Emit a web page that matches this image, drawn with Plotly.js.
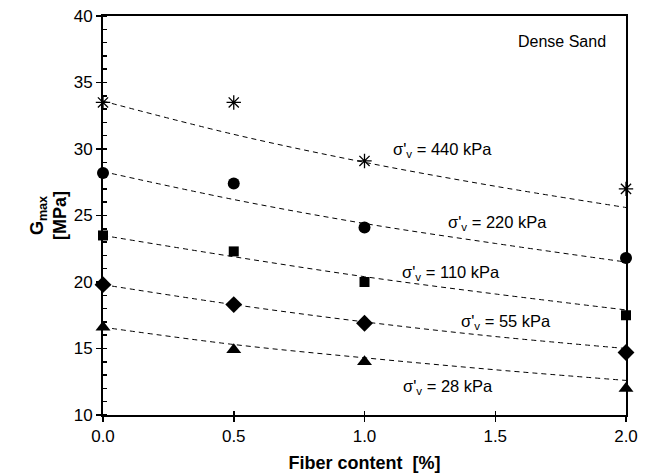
<!DOCTYPE html>
<html>
<head>
<meta charset="utf-8">
<script src="https://cdn.plot.ly/plotly-3.0.1.min.js"></script>
<style>html,body{margin:0;padding:0;background:#fff;}#chart{width:646px;height:473px;}</style>
</head>
<body>
<div id="chart"></div>
<script>
// Measured data
const fiber = [0.0, 0.5, 1.0, 2.0];
const g440 = [33.5, 33.5, 29.1, 27.0];
const g220 = [28.2, 27.4, 24.1, 21.8];
const g110 = [23.5, 22.3, 20.0, 17.5];
const g55  = [19.8, 18.3, 16.9, 14.7];
const g28  = [16.6, 14.9, 14.0, 12.0];

// Trend (fit) lines
const trendX = [0.0, 0.5, 1.0, 1.5, 2.0];
const t440 = [33.6, 31.1, 29.0, 27.2, 25.6];
const t220 = [28.3, 26.2, 24.4, 22.9, 21.5];
const t110 = [23.5, 21.9, 20.4, 19.1, 17.9];
const t55  = [19.8, 18.3, 17.0, 15.9, 15.0];
const t28  = [16.6, 15.3, 14.3, 13.4, 12.6];

const labels = ["σ'<sub>v</sub> = 440 kPa", "σ'<sub>v</sub> = 220 kPa", "σ'<sub>v</sub> = 110 kPa", "σ'<sub>v</sub> = 55 kPa", "σ'<sub>v</sub> = 28 kPa"];
const labelX = [1.30, 1.51, 1.33, 1.54, 1.32];
const labelY = [29.9, 24.4, 20.7, 17.0, 12.1];

const series = [
  {y: g440, t: t440, sym: 'asterisk-open', size: 12, lw: 1.3},
  {y: g220, t: t220, sym: 'circle', size: 12, lw: 0},
  {y: g110, t: t110, sym: 'square', size: 10, lw: 0},
  {y: g55,  t: t55,  sym: 'diamond', size: 13, lw: 0},
  {y: g28,  t: t28,  sym: 'triangle-up', size: 13, lw: 0}
];

const traces = [];
series.forEach(s => {
  traces.push({x: trendX, y: s.t, mode: 'lines', line: {color: '#000', width: 1, dash: '5px,4px', shape: 'spline'}, hoverinfo: 'skip', showlegend: false, cliponaxis: false});
});
series.forEach(s => {
  traces.push({x: fiber, y: s.y, mode: 'markers', marker: {symbol: s.sym, size: s.size, color: '#000', line: {color: '#000', width: s.lw}}, showlegend: false, cliponaxis: false});
});

const font = {family: 'Liberation Sans, Arial, sans-serif', color: '#000'};
const annotations = labels.map((t, i) => ({x: labelX[i], y: labelY[i], xref: 'x', yref: 'y', text: t, showarrow: false, font: Object.assign({size: 16.5}, font)}));
annotations.push({x: 1.755, y: 38.05, xref: 'x', yref: 'y', text: 'Dense Sand', showarrow: false, font: Object.assign({size: 16}, font)});

const layout = {
  width: 646, height: 473,
  margin: {l: 103, r: 20, t: 16, b: 58},
  paper_bgcolor: '#fff', plot_bgcolor: '#fff',
  font: Object.assign({size: 17}, font),
  showlegend: false,
  xaxis: {
    range: [0, 2], tickvals: [0, 0.5, 1.0, 1.5, 2.0], ticktext: ['0.0', '0.5', '1.0', '1.5', '2.0'],
    ticks: 'outside', ticklen: 5, tickwidth: 1.5, tickcolor: '#000',
    showline: true, linecolor: '#000', linewidth: 2, mirror: true,
    showgrid: false, zeroline: false,
    tickfont: Object.assign({size: 17}, font),
    title: {text: '<b>Fiber content  [%]</b>', font: Object.assign({size: 18}, font), standoff: 12}
  },
  xaxis2: {
    range: [0, 2], overlaying: 'x', tickvals: [0.5, 1.0, 1.5], showticklabels: false,
    ticks: 'inside', ticklen: 4, tickwidth: 1.5, tickcolor: '#000',
    showline: false, showgrid: false, zeroline: false
  },
  yaxis: {
    range: [10, 40], tickvals: [10, 15, 20, 25, 30, 35, 40], ticksuffix: '\u00a0',
    ticks: 'outside', ticklen: 5, tickwidth: 1.5, tickcolor: '#000',
    minor: {dtick: 1, ticks: 'inside', ticklen: 4, tickwidth: 1.5, tickcolor: '#000', showgrid: false},
    showline: true, linecolor: '#000', linewidth: 2, mirror: true,
    showgrid: false, zeroline: false,
    tickfont: Object.assign({size: 17}, font),
    title: {text: '<b>G<sub>max</sub></b><br><b>[MPa]</b>', font: Object.assign({size: 18}, font), standoff: 2}
  },
  annotations: annotations
};
traces.push({x: [0], y: [10], xaxis: 'x2', mode: 'markers', marker: {opacity: 0}, hoverinfo: 'skip', showlegend: false});

Plotly.newPlot('chart', traces, layout, {displayModeBar: false, staticPlot: true});
</script>
</body>
</html>
